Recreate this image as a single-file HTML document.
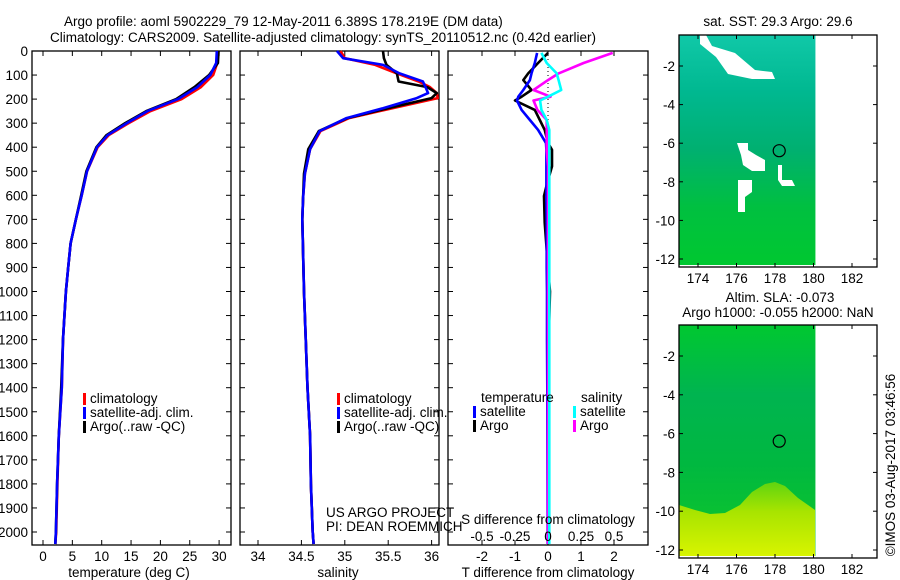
<!DOCTYPE html>
<html><head><meta charset="utf-8"><style>
body{margin:0;background:#fff;}
svg{display:block;font-family:"Liberation Sans",sans-serif;}
text{fill:#000;font-size:13.5px;}
</style></head><body>
<svg id="c" width="900" height="580" viewBox="0 0 900 580">
<defs>
<linearGradient id="g1" x1="0" y1="0" x2="0" y2="1">
<stop offset="0" stop-color="#10c8a8"/><stop offset="0.25" stop-color="#00b890"/><stop offset="0.5" stop-color="#00b070"/><stop offset="0.75" stop-color="#00c040"/><stop offset="1" stop-color="#00c830"/></linearGradient>
<linearGradient id="g2" x1="0" y1="0" x2="0" y2="1">
<stop offset="0" stop-color="#00c830"/><stop offset="0.3" stop-color="#00b450"/><stop offset="0.6" stop-color="#00b840"/><stop offset="1" stop-color="#10c828"/></linearGradient>
<linearGradient id="g3" x1="0" y1="0" x2="0" y2="1">
<stop offset="0" stop-color="#60d410"/><stop offset="0.4" stop-color="#a8e400"/><stop offset="1" stop-color="#d8f400"/></linearGradient>
</defs>
<g id="titles">
<text x="64" y="26" font-size="15">Argo profile: aoml 5902229_79 12-May-2011 6.389S 178.219E (DM data)</text>
<text x="50" y="42" font-size="15">Climatology: CARS2009. Satellite-adjusted climatology: synTS_20110512.nc (0.42d earlier)</text>
</g>
</svg>
<script>
// depth levels (dbar)
const depths = [0,50,100,150,200,250,300,350,400,500,600,700,800,900,1000,1200,1400,1600,1800,2000,2050];
// temperature profiles
const tempClim = [29.8,29.7,29.0,26.9,23.6,18.3,14.6,11.2,9.3,7.5,6.6,5.6,4.7,4.3,3.9,3.4,3.2,2.7,2.45,2.25,2.1];
const tempSat  = [29.6,29.5,28.5,26.3,23.0,17.8,14.3,11.0,9.2,7.5,6.6,5.6,4.7,4.3,3.9,3.4,3.2,2.7,2.4,2.2,2.1];
const tempArgo = [29.9,29.8,28.3,25.8,22.7,17.6,14.0,10.8,9.1,7.4,6.5,5.6,4.7,4.3,3.9,3.4,3.1,2.7,2.4,2.2,2.1];
// salinity profiles
const saltDepths = [0,30,58,93,127,150,175,196,238,279,333,408,510,610,700,1000,1400,1600,1800,2000,2050];
const saltClim = [34.95,35.0,35.35,35.6,35.85,35.98,36.06,36.07,35.55,35.05,34.72,34.6,34.54,34.52,34.51,34.53,34.57,34.6,34.61,34.63,34.64];
const saltSat  = [34.91,34.98,35.44,35.63,35.9,35.93,35.96,35.83,35.44,35.02,34.71,34.6,34.54,34.52,34.51,34.53,34.57,34.6,34.61,34.63,34.64];
const saltArgo = [35.44,35.45,35.48,35.6,35.62,35.95,36.06,36.0,35.5,35.03,34.7,34.58,34.53,34.52,34.51,34.53,34.57,34.6,34.61,34.63,34.64];
// differences from climatology
const diffDepths = [8,50,93,121,162,190,206,245,287,328,383,411,480,547,603,714,900,1000,1200,1400,2050];
const tDiffSat  = [-0.33,-0.4,-0.5,-0.55,-0.75,-0.9,-0.94,-0.8,-0.55,-0.3,-0.06,-0.05,-0.05,-0.05,-0.05,-0.04,-0.04,-0.03,-0.03,-0.02,-0.01];
const tDiffArgo = [0,-0.3,-0.6,-0.75,-0.5,-0.8,-1.0,-0.4,-0.25,-0.1,0.0,0.12,0.12,-0.02,-0.12,-0.1,0.0,0.06,0.02,0.0,0.0];
const sDiffSat  = [-0.05,-0.01,0.066,0.08,0.1,0.0,-0.06,-0.05,-0.01,0.01,0.01,0.01,0.01,0.01,0.01,0.01,0.01,0.01,0.01,0.01,0.01];
const sDiffArgo = [0.49,0.27,0.08,0.0,-0.11,0.02,-0.11,-0.08,-0.01,-0.01,-0.01,-0.01,0,0,0,0,0,0,0,0,0];
const depthTicks = [0,100,200,300,400,500,600,700,800,900,1000,1100,1200,1300,1400,1500,1600,1700,1800,1900,2000];
const tempTicks = [0,5,10,15,20,25,30];
const saltTicks = [34,34.5,35,35.5,36];
const tDiffTicks = [-2,-1,0,1,2];
const sDiffTicks = [-0.5,-0.25,0,0.25,0.5];
const latTicks = [-2,-4,-6,-8,-10,-12];
const lonTicks = [174,176,178,180,182];
const argoLon = 178.219, argoLat = -6.389;

const svg = document.getElementById('c');
const NS = 'http://www.w3.org/2000/svg';
function mk(tag, attrs, parent){const e=document.createElementNS(NS,tag);for(const k in attrs)e.setAttribute(k,attrs[k]);(parent||svg).appendChild(e);return e;}
function txt(x,y,s,anchor,parent){const t=mk('text',{x:x,y:y,'text-anchor':anchor||'start'},parent);t.textContent=s;return t;}

const TOP=51, BOT=545;
const yD = d => 51 + d*0.2405;
const xT = v => 43 + v*5.87;
const xS = v => 258 + (v-34)*86.8;
const xTd = v => 548 + v*33;
const xSd = v => 548 + v*132;

function frame(x0,x1,name){
  const r=mk('rect',{x:x0,y:TOP,width:x1-x0,height:BOT-TOP,fill:'none',stroke:'#000','stroke-width':1.3});
  
  
  depthTicks.forEach(d=>{mk('line',{x1:x0,x2:x0+5,y1:yD(d),y2:yD(d),stroke:'#000'});mk('line',{x1:x1,x2:x1-5,y1:yD(d),y2:yD(d),stroke:'#000'});});
}
function xticks(vals,fx){vals.forEach(v=>{const x=fx(v);mk('line',{x1:x,x2:x,y1:TOP,y2:TOP+5,stroke:'#000'});mk('line',{x1:x,x2:x,y1:BOT,y2:BOT-5,stroke:'#000'});});}
function line(ds,vs,fx,color,name){
  const pts=ds.map((d,i)=>fx(vs[i]).toFixed(1)+','+yD(d).toFixed(1)).join(' ');
  const p=mk('polyline',{points:pts,fill:'none',stroke:color,'stroke-width':2.6,'stroke-linejoin':'round'});
  
  
}
function legend(x,y,items){
  items.forEach((it,i)=>{mk('rect',{x:x,y:y+i*14-10,width:3,height:12,fill:it[0]});const t=txt(x+7,y+i*14,it[1]);
  
  });
}

// Panel 1 temperature
frame(32,231,'temperature-panel');
depthTicks.forEach(d=>{const t=txt(28,yD(d)+5,String(d),'end');

});
xticks(tempTicks,xT);
tempTicks.forEach(v=>txt(xT(v),561,String(v),'middle'));
const tl=txt(129,577,'temperature (deg C)','middle');


line(depths,tempClim,xT,'#ff0000','temp-climatology-line');
line(depths,tempArgo,xT,'#000000','temp-argo-line');
line(depths,tempSat,xT,'#0000ff','temp-satellite-line');
legend(83,403,[['#ff0000','climatology'],['#0000ff','satellite-adj. clim.'],['#000','Argo(..raw -QC)']]);

// Panel 2 salinity
frame(240,439,'salinity-panel');
xticks(saltTicks,xS);
saltTicks.forEach(v=>txt(xS(v),561,String(v),'middle'));
const sl=txt(338,577,'salinity','middle');


line(saltDepths,saltClim,xS,'#ff0000','salt-climatology-line');
line(saltDepths,saltArgo,xS,'#000000','salt-argo-line');
line(saltDepths,saltSat,xS,'#0000ff','salt-satellite-line');
legend(337,403,[['#ff0000','climatology'],['#0000ff','satellite-adj. clim.'],['#000','Argo(..raw -QC)']]);
txt(326,517,'US ARGO PROJECT');
txt(326,531,'PI: DEAN ROEMMICH');

// Panel 3 differences
frame(448,648,'difference-panel');
xticks(tDiffTicks,xTd);
mk('line',{x1:548,x2:548,y1:TOP,y2:BOT,stroke:'#000','stroke-dasharray':'1,3'});
line(diffDepths,tDiffArgo,xTd,'#000000','tdiff-argo-line');
line(diffDepths,tDiffSat,xTd,'#0000ff','tdiff-satellite-line');
line(diffDepths,sDiffArgo,xSd,'#ff00ff','sdiff-argo-line');
line(diffDepths,sDiffSat,xSd,'#00ffff','sdiff-satellite-line');
txt(481,402,'temperature');
legend(473,416,[['#0000ff','satellite'],['#000','Argo']]);
txt(581,402,'salinity');
legend(573,416,[['#00ffff','satellite'],['#ff00ff','Argo']]);
txt(548,524,'S difference from climatology','middle');
sDiffTicks.forEach(v=>txt(xSd(v),541,String(v),'middle'));
tDiffTicks.forEach(v=>txt(xTd(v),561,String(v),'middle'));
txt(548,577,'T difference from climatology','middle');

// Maps
function map(y0,y1,latY,fill,name,extra){
  const xL = v => 698 + (v-174)*19.25;
  const g=mk('g',{});
  
  
  mk('rect',{x:679,y:y0,width:xL(180.1)-679,height:y1-y0-2,fill:fill},g);
  extra(g,xL);
  mk('circle',{cx:xL(argoLon),cy:latY(argoLat),r:6,fill:'none',stroke:'#000','stroke-width':1.2},g);
  mk('rect',{x:679,y:y0,width:198,height:y1-y0,fill:'none',stroke:'#000','stroke-width':1.3},g);
  lonTicks.forEach(v=>{const x=xL(v);mk('line',{x1:x,x2:x,y1:y0,y2:y0+4,stroke:'#000'},g);mk('line',{x1:x,x2:x,y1:y1,y2:y1-4,stroke:'#000'},g);txt(x,y1+16,String(v),'middle',g);});
  latTicks.forEach(v=>{const y=latY(v);mk('line',{x1:679,x2:683,y1:y,y2:y,stroke:'#000'},g);mk('line',{x1:877,x2:873,y1:y,y2:y,stroke:'#000'},g);txt(675,y+5,String(v),'end',g);});
}
map(35,267,v=>66+(-2-v)*19.3,'url(#g1)','sst-map',(g,xL)=>{
  mk('polygon',{points:'700,35 706,35 712,46 735,53 755,70 772,72 775,79 752,79 728,74 716,57 700,44',fill:'#fff'},g);
  mk('polygon',{points:'737,143 748,143 748,150 756,155 765,160 765,171 752,171 743,165 741,155',fill:'#fff'},g);
  mk('polygon',{points:'778,165 782,165 782,180 792,180 795,186 782,186 778,180',fill:'#fff'},g);
  mk('polygon',{points:'738,180 752,180 752,192 745,197 745,212 738,212',fill:'#fff'},g);
});
map(325,558,v=>356+(-2-v)*19.4,'url(#g2)','sla-map',(g,xL)=>{
  mk('path',{d:'M679,508 L679,505 L695,510 L710,514 L725,513 L740,505 L752,492 L765,484 L775,482 L785,486 L798,498 L808,505 L815,510 L815,556 L679,556 Z',fill:'url(#g3)'},g);
});
txt(778,26,'sat. SST: 29.3 Argo: 29.6','middle');
txt(780,302,'Altim. SLA: -0.073','middle');
txt(778,317,'Argo h1000: -0.055 h2000: NaN','middle');
const cp=txt(0,0,'©IMOS 03-Aug-2017 03:46:56','middle');
cp.setAttribute('transform','translate(895,465) rotate(-90)');


</script>
</body></html>
